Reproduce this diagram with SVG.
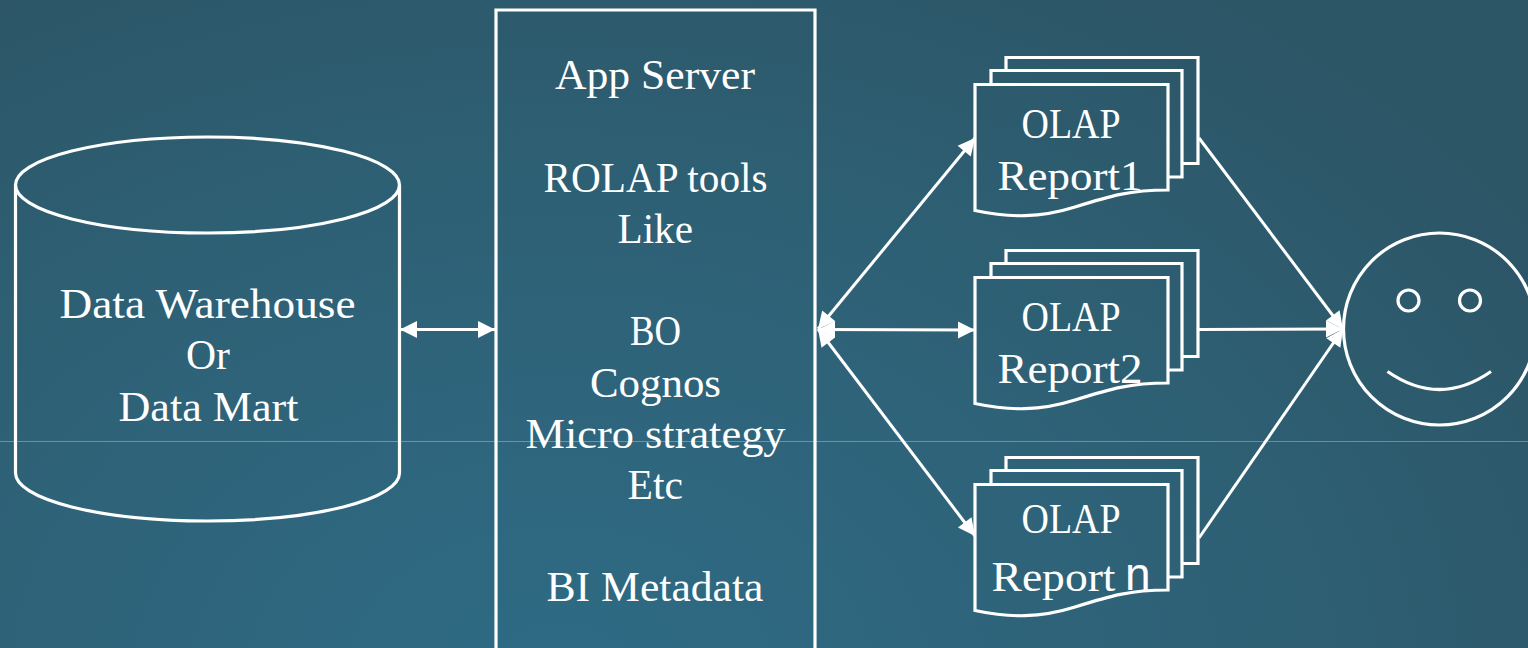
<svg xmlns="http://www.w3.org/2000/svg" width="1528" height="648" viewBox="0 0 1528 648">
<style>
.s{fill:none;stroke:#fff;stroke-width:3.200}
.c{fill:none;stroke:#fff;stroke-width:3;marker-end:url(#ah)}
.d{marker-start:url(#ah)}
text{font-family:"Liberation Serif",serif;font-size:42px;fill:#fff}
</style>
<defs>
<radialGradient id="bg" gradientUnits="userSpaceOnUse" cx="560" cy="680" r="1180" gradientTransform="translate(0 200) scale(1 .7)">
<stop offset="0" stop-color="#2e6b85"/><stop offset=".55" stop-color="#2e6176"/><stop offset="1" stop-color="#2c5566"/>
</radialGradient>
<marker id="ah" markerUnits="userSpaceOnUse" markerWidth="20" markerHeight="20" refX="18" refY="10" orient="auto-start-reverse" viewBox="0 0 20 20">
<path d="M1 1.500L18 10L1 18.500Z" fill="#fff"/>
</marker>
<g id="stack">
<path class="s" d="M1006 70.500V57.500H1198V163.500H1182"/>
<path class="s" d="M991 84.500V70.500H1182V177H1168"/>
<path class="s" d="M975 84.500H1168V190C1130 190 1110 196 1075 207C1040 218 1010 218 975 210.500Z"/>
</g>
</defs>
<rect width="1528" height="648" fill="url(#bg)"/>
<rect y="441" width="1528" height="1" fill="#fff" fill-opacity=".3"/>
<g id="connectors">
<path class="c d" d="M400 329.500H495"/>
<path class="c d" d="M818 329L975 138"/>
<path class="c d" d="M818 329.500L975 330"/>
<path class="c d" d="M818 329L975 536"/>
<path class="c" d="M1199 138L1343 329"/>
<path class="c" d="M1199 329.500L1343 329"/>
<path class="c" d="M1199 538L1343 329"/>
</g>
<g id="warehouse">
<path class="s" d="M15.500 185V473A192 48 0 0 0 399.500 473V185"/>
<ellipse class="s" cx="207.500" cy="185" rx="192" ry="48"/>
<text x="59.500" y="318" textLength="296" lengthAdjust="spacingAndGlyphs">Data Warehouse</text>
<text x="186" y="369" textLength="44" lengthAdjust="spacingAndGlyphs">Or</text>
<text x="118.500" y="421" textLength="180" lengthAdjust="spacingAndGlyphs">Data Mart</text>
</g>
<g id="appserver">
<path class="s" d="M496 650V10H815V650"/>
<text x="555" y="89" textLength="200" lengthAdjust="spacingAndGlyphs">App Server</text>
<text x="543.500" y="192" textLength="224" lengthAdjust="spacingAndGlyphs">ROLAP tools</text>
<text x="617.500" y="243" textLength="75.500" lengthAdjust="spacingAndGlyphs">Like</text>
<text x="630" y="345" textLength="51" lengthAdjust="spacingAndGlyphs">BO</text>
<text x="590" y="397" textLength="131" lengthAdjust="spacingAndGlyphs">Cognos</text>
<text x="525.500" y="448" textLength="260" lengthAdjust="spacingAndGlyphs">Micro strategy</text>
<text x="627.500" y="499" textLength="55.500" lengthAdjust="spacingAndGlyphs">Etc</text>
<text x="546.500" y="601" textLength="217" lengthAdjust="spacingAndGlyphs">BI Metadata</text>
</g>
<g id="report1">
<use href="#stack"/>
<text x="1021.500" y="138" textLength="99" lengthAdjust="spacingAndGlyphs" style="font-size:43px">OLAP</text>
<text x="997.500" y="189.500" textLength="145" lengthAdjust="spacingAndGlyphs">Report1</text>
</g>
<g id="report2">
<use href="#stack" y="193"/>
<text x="1021.500" y="331" textLength="99" lengthAdjust="spacingAndGlyphs" style="font-size:43px">OLAP</text>
<text x="997.500" y="382.500" textLength="145" lengthAdjust="spacingAndGlyphs">Report2</text>
</g>
<g id="reportn">
<use href="#stack" y="400"/>
<text x="1021.500" y="533" textLength="99" lengthAdjust="spacingAndGlyphs" style="font-size:43px">OLAP</text>
<text x="991.500" y="591" textLength="124" lengthAdjust="spacingAndGlyphs">Report</text>
<text x="1125" y="590" style="font-family:'Liberation Sans',sans-serif;font-size:46px">n</text>
</g>
<g id="user">
<circle class="s" cx="1439.500" cy="329" r="96"/>
<circle class="s" cx="1408.500" cy="300.500" r="10.500"/>
<circle class="s" cx="1470" cy="300.500" r="10.500"/>
<path class="s" d="M1387.500 371.500Q1439.500 407.500 1491 371.500"/>
</g>
</svg>
